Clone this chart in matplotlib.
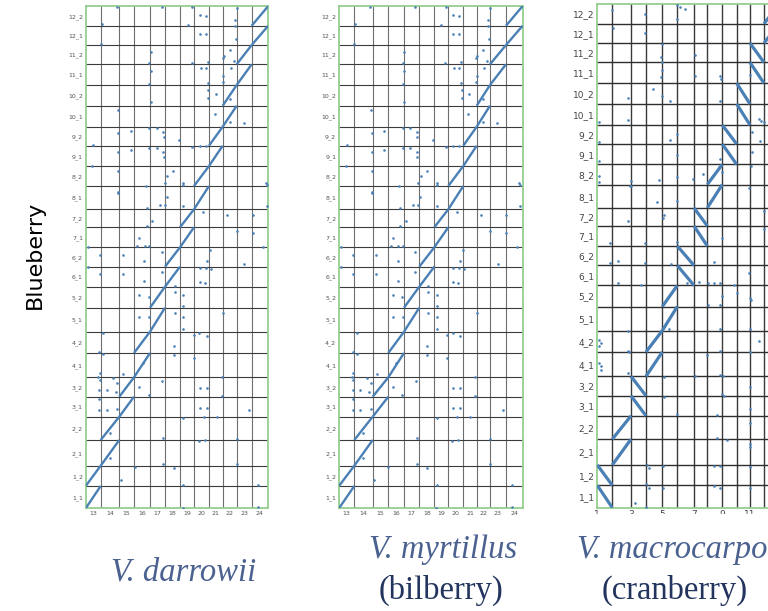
import numpy as np
import matplotlib
matplotlib.use('Agg')
import matplotlib.pyplot as plt
from matplotlib.patches import Rectangle

# Blueberry haplotype chromosomes (y axis of every dot plot) and their lengths (Mb)
BLUEBERRY = [f"{c}_{h}" for c in range(1, 13) for h in (1, 2)]
BLUEBERRY_LEN = [22.3, 20.3, 25.7, 23.3, 20.0, 19.4, 24.3, 21.3, 24.0, 21.0, 20.0, 19.4,
                 20.0, 18.0, 23.3, 20.0, 20.3, 19.0, 21.0, 20.7, 20.7, 19.3, 19.3, 19.7]

DARROWII = [str(c) for c in range(13, 25)]
DARROWII_LEN = [15.0, 18.6, 14.7, 16.0, 15.0, 15.0, 14.0, 15.0, 13.7, 14.0, 15.0, 16.6]
DARROWII_STRAND = [1] * 12

MYRTILLUS = [str(c) for c in range(13, 25)]
MYRTILLUS_LEN = [15.3, 18.4, 15.6, 15.7, 15.3, 15.0, 14.0, 15.0, 13.4, 13.3, 16.0, 16.7]
MYRTILLUS_STRAND = [1] * 12

CRANBERRY = [str(c) for c in range(1, 13)]
CRANBERRY_LEN = [15.0, 18.7, 15.0, 16.3, 15.0, 16.7, 13.3, 15.0, 14.4, 13.3, 14.0, 15.0]
CRANBERRY_STRAND = [-1, 1, -1, 1, 1, -1, -1, 1, -1, -1, -1, 1]

# off-diagonal hits, genome-wide (concatenated) coordinates: (query, blueberry)
DARROWII_HITS = [
    (7.6, 363.3), (6.6, 342.6), (16.0, 484.3), (15.3, 464.0), (32.0, 398.3), (32.6, 375.6),
    (32.6, 356.0), (32.6, 337.3), (32.6, 316.6), (32.6, 315.0), (45.3, 377.3), (45.3, 358.3),
    (65.3, 456.6), (63.6, 445.0), (65.3, 437.3), (63.6, 424.3), (65.3, 406.0), (63.6, 380.0),
    (63.6, 360.6), (60.3, 322.6), (71.0, 380.0), (71.0, 360.6), (77.6, 376.6), (78.3, 371.6),
    (77.6, 356.6), (78.3, 351.6), (81.6, 332.6), (87.6, 337.3), (79.3, 325.0), (93.6, 368.3),
    (97.6, 325.0), (102.0, 483.3), (106.0, 445.6), (106.6, 361.3), (114.3, 493.3), (120.3, 492.6),
    (114.3, 474.0), (120.3, 474.0), (115.0, 440.0), (120.3, 440.0), (114.3, 362.6), (120.3, 362.6),
    (122.0, 446.6), (122.0, 425.0), (122.6, 418.3), (122.6, 410.0), (130.0, 414.0), (129.3, 394.3),
    (137.0, 450.0), (138.3, 452.3), (137.6, 432.3), (137.0, 426.6), (144.3, 458.3), (145.0, 440.0),
    (144.3, 409.0), (144.3, 386.6), (149.3, 488.3), (149.3, 482.3), (150.3, 469.0), (148.3, 447.3),
    (151.0, 500.0), (158.3, 385.6), (180.3, 325.0), (31.0, 501.3), (106.6, 501.3), (76.0, 501.3),
    (61.0, 300.0), (66.6, 287.6), (61.0, 282.3), (81.0, 311.6), (79.3, 303.3), (74.3, 303.3),
    (97.6, 323.3), (97.6, 302.3), (117.6, 296.6), (141.6, 293.3), (167.0, 293.3), (151.0, 277.6),
    (167.0, 275.0), (181.0, 323.3), (181.0, 302.3), (53.6, 270.0), (59.3, 262.3), (63.6, 262.3),
    (51.6, 262.3), (76.0, 256.6), (58.6, 247.6), (14.3, 253.3), (37.0, 253.3), (2.0, 261.0),
    (177.6, 261.0), (124.3, 258.3), (121.0, 247.6), (158.6, 244.3), (2.0, 241.6), (14.3, 234.0),
    (37.0, 234.0), (114.3, 240.0), (120.3, 240.0), (125.0, 239.3), (76.0, 236.6), (58.6, 227.3),
    (114.3, 226.6), (119.3, 225.6), (89.3, 222.3), (89.3, 216.6), (53.6, 213.3), (63.3, 211.6),
    (97.6, 213.3), (97.6, 202.3), (97.6, 191.6), (89.3, 195.0), (53.6, 191.6), (63.6, 191.6),
    (137.6, 195.6), (97.6, 179.0), (17.6, 175.0), (88.3, 162.3), (13.6, 156.6), (17.6, 154.3),
    (57.0, 145.0), (88.3, 153.3), (12.6, 131.6), (14.3, 135.0), (14.3, 128.3), (27.6, 130.6),
    (31.6, 125.0), (37.6, 134.0), (76.6, 127.6), (13.6, 118.3), (21.0, 118.3), (30.3, 116.6),
    (53.6, 121.6), (63.3, 113.3), (114.3, 120.6), (121.0, 120.6), (136.0, 131.6), (136.0, 112.6),
    (13.6, 109.0), (13.6, 98.3), (21.0, 98.3), (31.6, 99.0), (114.3, 100.6), (121.0, 100.6),
    (97.6, 90.0), (118.3, 91.0), (131.0, 91.0), (163.6, 98.3), (24.3, 75.6), (77.6, 70.0),
    (113.3, 67.3), (119.3, 68.3), (151.0, 69.3), (24.3, 50.6), (77.6, 44.0), (151.0, 44.0),
    (49.3, 41.6), (88.3, 40.6), (35.3, 28.3), (97.6, 23.3), (172.6, 23.3), (97.0, 0.5),
    (172.6, 1.6), (108.3, 173.3), (113.6, 175.0), (121.0, 172.3), (108.3, 150.0),
]
# bilberry carries the same scattered hits as darrowii
MYRTILLUS_HITS = DARROWII_HITS

CRANBERRY_HITS = [
    (14.4, 496.7), (16.0, 478.7), (47.7, 492.7), (47.7, 473.7), (80.0, 501.0), (82.7, 499.4),
    (87.7, 497.7), (80.0, 487.0), (65.0, 462.7), (63.4, 449.4), (65.0, 444.4), (63.4, 429.4),
    (65.0, 436.0), (56.0, 417.7), (30.4, 408.7), (65.0, 410.4), (72.7, 406.0), (30.4, 387.0),
    (97.7, 451.0), (97.7, 430.4), (122.7, 430.4), (123.4, 427.7), (122.7, 406.0), (152.7, 431.7),
    (162.0, 387.7), (163.7, 386.0), (154.4, 374.4), (162.7, 366.0), (154.4, 354.4), (80.0, 372.7),
    (72.7, 366.7), (80.0, 351.7), (122.7, 347.7), (122.0, 339.4), (124.4, 334.4), (106.0, 332.7),
    (96.0, 327.7), (79.4, 330.0), (61.7, 327.0), (33.7, 326.0), (33.7, 321.0), (2.0, 384.4),
    (2.0, 364.4), (2.0, 345.4), (2.0, 331.0), (2.0, 325.0), (153.4, 341.0), (166.7, 384.4),
    (32.7, 321.0), (152.0, 318.7), (60.0, 304.4), (79.4, 306.0), (67.0, 291.7), (66.0, 288.4),
    (31.0, 286.0), (166.7, 296.0), (166.7, 277.7), (124.4, 269.4), (12.7, 264.4), (47.7, 264.4),
    (80.0, 265.0), (12.7, 244.4), (21.0, 246.0), (47.7, 244.4), (73.4, 242.7), (116.7, 245.4),
    (152.0, 234.4), (21.0, 224.4), (43.4, 221.7), (89.4, 224.4), (102.0, 225.0), (111.0, 224.4),
    (116.7, 223.7), (122.7, 223.7), (136.7, 221.7), (140.0, 213.7), (152.7, 209.4), (153.4, 206.7),
    (124.4, 211.0), (111.0, 201.7), (122.7, 201.7), (122.7, 178.4), (152.7, 178.4), (72.0, 178.4),
    (31.0, 176.0), (162.0, 166.0), (2.0, 167.7), (3.4, 164.4), (2.0, 161.0), (31.0, 156.0),
    (32.0, 155.0), (122.7, 156.0), (152.7, 155.0), (109.4, 152.7), (2.0, 144.4), (3.4, 141.0),
    (3.4, 137.7), (31.0, 134.4), (66.7, 130.0), (97.7, 131.7), (122.7, 132.7), (126.0, 131.0),
    (152.7, 120.0), (124.4, 113.4), (126.7, 111.0), (66.7, 110.4), (152.7, 98.7), (79.4, 93.4),
    (120.0, 92.7), (152.7, 84.4), (120.0, 69.4), (129.4, 67.7), (152.7, 63.4), (152.7, 60.4),
    (116.7, 42.0), (122.7, 41.7), (152.7, 41.0), (66.0, 41.7), (50.0, 42.7), (52.0, 40.0),
    (48.7, 23.4), (52.0, 19.4), (116.7, 21.7), (122.7, 20.0), (152.7, 19.4), (66.0, 19.4),
    (48.7, 1.0), (37.7, 4.4),
]

W, H = 768, 611
DOT_BLUE = '#4a80b5'
FRAME_GREEN = '#93cf8e'


def px_box(left, top, right, bottom):
    # figure-fraction rectangle from pixel edges
    return [left / W, 1 - bottom / H, (right - left) / W, (bottom - top) / H]


def dot_plot(ax, xlens, strands, hits, vcolor, hcolor, grid_lw, line_w):
    xb = np.concatenate([[0], np.cumsum(xlens)])
    yb = np.concatenate([[0], np.cumsum(BLUEBERRY_LEN)])

    for b in xb[1:-1]:
        ax.axvline(b, color=vcolor, lw=grid_lw, zorder=1)
    for b in yb[1:-1]:
        ax.axhline(b, color=hcolor, lw=grid_lw, zorder=1)

    # each query chromosome aligns to both haplotypes of its blueberry homolog
    for k, s in enumerate(strands):
        for h in (0, 1):
            r = 2 * k + h
            ys = [yb[r], yb[r + 1]] if s > 0 else [yb[r + 1], yb[r]]
            ax.plot([xb[k], xb[k + 1]], ys, color=DOT_BLUE, lw=line_w,
                    solid_capstyle='butt', zorder=3)

    hx, hy = np.array(hits).T
    ax.scatter(hx, hy, s=3.5, color=DOT_BLUE, lw=0, zorder=3)

    ax.set_xlim(xb[0], xb[-1])
    ax.set_ylim(yb[0], yb[-1])
    ax.set_yticks((yb[:-1] + yb[1:]) / 2)
    ax.set_yticklabels(BLUEBERRY)
    for sp in ax.spines.values():
        sp.set_color(FRAME_GREEN)
        sp.set_linewidth(1.3)
    ax.tick_params(length=0)
    return xb


fig = plt.figure(figsize=(W / 100, H / 100), dpi=100)

ax1 = fig.add_axes(px_box(85.7, 6, 268.3, 508.3))
xb = dot_plot(ax1, DARROWII_LEN, DARROWII_STRAND, DARROWII_HITS,
              '#6e6e6e', '#3c3c3c', 0.8, 1.7)
ax1.set_xticks((xb[:-1] + xb[1:]) / 2)
ax1.set_xticklabels(DARROWII)

ax2 = fig.add_axes(px_box(339, 6, 522.7, 508.3))
xb = dot_plot(ax2, MYRTILLUS_LEN, MYRTILLUS_STRAND, MYRTILLUS_HITS,
              '#6e6e6e', '#3c3c3c', 0.8, 1.7)
ax2.set_xticks((xb[:-1] + xb[1:]) / 2)
ax2.set_xticklabels(MYRTILLUS)

for ax in (ax1, ax2):
    ax.tick_params(labelsize=4.5, labelcolor='#555555', pad=2)

ax3 = fig.add_axes(px_box(597.3, 4, 779.0, 507.7))
xb = dot_plot(ax3, CRANBERRY_LEN, CRANBERRY_STRAND, CRANBERRY_HITS,
              '#3a3a3a', '#2e2e2e', 1.0, 2.3)
ax3.set_xticks(xb[0:12:2])
ax3.set_xticklabels(CRANBERRY[0::2])
ax3.tick_params(labelsize=6.5, labelcolor='#444444', pad=2)

# lower half of the cranberry tick labels is trimmed off
fig.add_artist(Rectangle((560 / W, 1 - 532 / H), 210 / W, 18.5 / H,
                         transform=fig.transFigure, color='white', zorder=10))

fig.text(35 / W, 1 - 255 / H, 'Blueberry', rotation=90, ha='center', va='center',
         fontsize=16, family='DejaVu Sans', color='black')

NAME_BLUE = '#4b6290'
PAREN_BLUE = '#23355e'
TITLE_SIZE = 23.5
fig.text(184 / W, 1 - 572 / H, 'V. darrowii', ha='center', va='center', fontsize=TITLE_SIZE,
         family='Liberation Serif', style='italic', color=NAME_BLUE)
fig.text(443 / W, 1 - 550 / H, 'V. myrtillus', ha='center', va='center', fontsize=TITLE_SIZE,
         family='Liberation Serif', style='italic', color=NAME_BLUE)
fig.text(441 / W, 1 - 590 / H, '(bilberry)', ha='center', va='center', fontsize=TITLE_SIZE,
         family='Liberation Serif', color=PAREN_BLUE)
fig.text(577 / W, 1 - 550 / H, 'V. macrocarpon', ha='left', va='center', fontsize=TITLE_SIZE,
         family='Liberation Serif', style='italic', color=NAME_BLUE)
fig.text(675 / W, 1 - 590 / H, '(cranberry)', ha='center', va='center', fontsize=TITLE_SIZE,
         family='Liberation Serif', color=PAREN_BLUE)

fig.savefig('out.png', dpi=100)
plt.close(fig)
